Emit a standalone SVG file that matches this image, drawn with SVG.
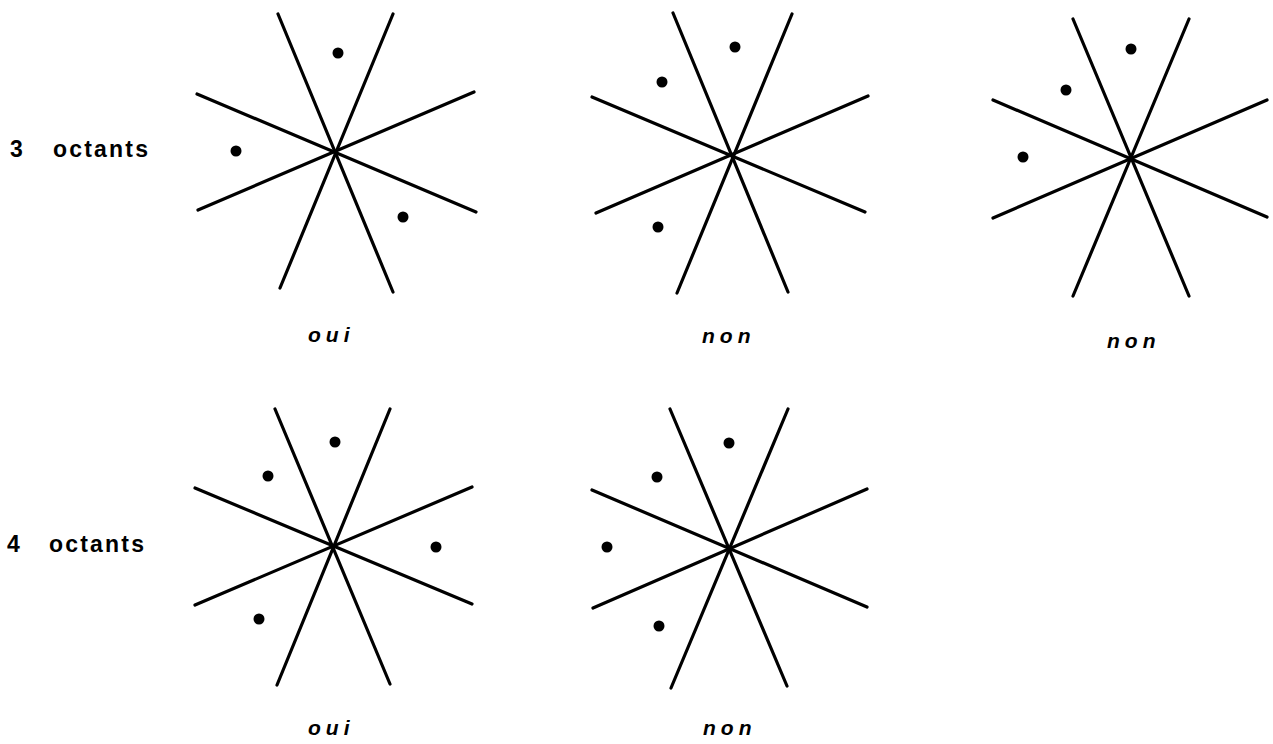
<svg xmlns="http://www.w3.org/2000/svg" width="1273" height="744" viewBox="0 0 1273 744">
<style>
.ln{stroke:#000;stroke-width:3.2;stroke-linecap:round;fill:none}
.dot{fill:#000}
.lbl{font-family:"Liberation Sans","DejaVu Sans",sans-serif;font-size:23px;font-weight:bold;letter-spacing:2.2px;fill:#000}
.ans{font-family:"Liberation Sans","DejaVu Sans",sans-serif;font-size:21px;font-style:italic;font-weight:bold;letter-spacing:5px;fill:#000}
</style>
<rect width="1273" height="744" fill="#fff"/>
<g id="row-labels">
<text class="lbl" x="10" y="157">3</text>
<text class="lbl" x="53" y="157">octants</text>
<text class="lbl" x="7" y="552">4</text>
<text class="lbl" x="49" y="552">octants</text>
</g>
<g id="star1">
<line class="ln" x1="278" y1="14" x2="393" y2="292"/>
<line class="ln" x1="393" y1="14" x2="280" y2="288"/>
<line class="ln" x1="197" y1="94" x2="476" y2="212"/>
<line class="ln" x1="198" y1="210" x2="474" y2="92"/>
<circle class="dot" cx="338" cy="53" r="5.5"/>
<circle class="dot" cx="236" cy="151" r="5.5"/>
<circle class="dot" cx="403" cy="217" r="5.5"/>
<text class="ans" x="308" y="342">oui</text>
</g>
<g id="star2">
<line class="ln" x1="673" y1="13" x2="788" y2="292"/>
<line class="ln" x1="792" y1="14" x2="677" y2="293"/>
<line class="ln" x1="592" y1="97" x2="865" y2="212"/>
<line class="ln" x1="596" y1="213" x2="868" y2="96"/>
<circle class="dot" cx="735" cy="47" r="5.5"/>
<circle class="dot" cx="662" cy="82" r="5.5"/>
<circle class="dot" cx="658" cy="227" r="5.5"/>
<text class="ans" x="702" y="343">non</text>
</g>
<g id="star3">
<line class="ln" x1="1073" y1="19" x2="1189" y2="296"/>
<line class="ln" x1="1189" y1="19" x2="1073" y2="296"/>
<line class="ln" x1="993" y1="100" x2="1267" y2="217"/>
<line class="ln" x1="993" y1="218" x2="1267" y2="100"/>
<circle class="dot" cx="1131" cy="49" r="5.5"/>
<circle class="dot" cx="1066" cy="90" r="5.5"/>
<circle class="dot" cx="1023" cy="157" r="5.5"/>
<text class="ans" x="1107" y="348">non</text>
</g>
<g id="star4">
<line class="ln" x1="275" y1="409" x2="390" y2="684"/>
<line class="ln" x1="390" y1="409" x2="277" y2="685"/>
<line class="ln" x1="195" y1="488" x2="472" y2="604"/>
<line class="ln" x1="195" y1="605" x2="472" y2="487"/>
<circle class="dot" cx="335" cy="442" r="5.5"/>
<circle class="dot" cx="268" cy="476" r="5.5"/>
<circle class="dot" cx="436" cy="547" r="5.5"/>
<circle class="dot" cx="259" cy="619" r="5.5"/>
<text class="ans" x="308" y="735">oui</text>
</g>
<g id="star5">
<line class="ln" x1="670" y1="409" x2="787" y2="686"/>
<line class="ln" x1="788" y1="409" x2="671" y2="688"/>
<line class="ln" x1="592" y1="490" x2="867" y2="607"/>
<line class="ln" x1="593" y1="608" x2="867" y2="489"/>
<circle class="dot" cx="729" cy="443" r="5.5"/>
<circle class="dot" cx="657" cy="477" r="5.5"/>
<circle class="dot" cx="607" cy="547" r="5.5"/>
<circle class="dot" cx="659" cy="626" r="5.5"/>
<text class="ans" x="703" y="735">non</text>
</g>
</svg>
